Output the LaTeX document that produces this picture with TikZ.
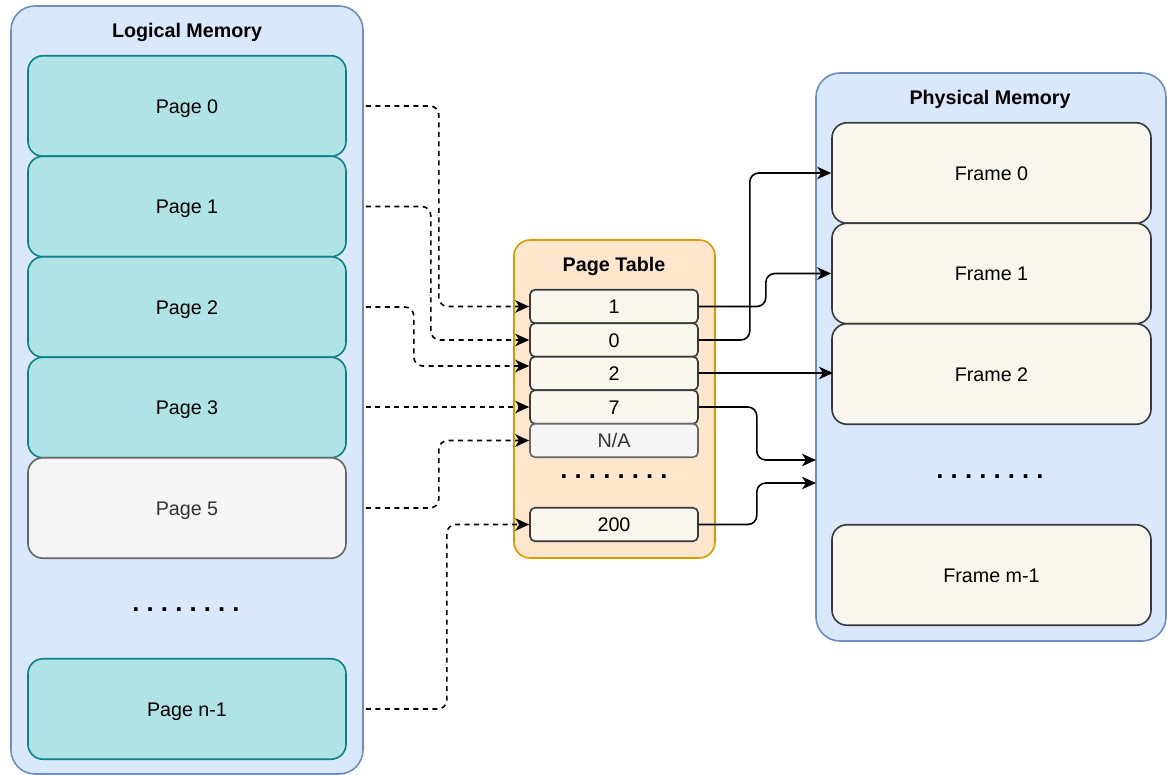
\documentclass[tikz,border=0pt]{standalone}
\usepackage{fontspec}
\setmainfont{Liberation Sans}
\usetikzlibrary{arrows.meta}
\definecolor{lmfill}{HTML}{DAE8FC}
\definecolor{lmdraw}{HTML}{6C8EBF}
\definecolor{pgfill}{HTML}{B0E3E6}
\definecolor{pgdraw}{HTML}{0E8088}
\definecolor{gyfill}{HTML}{F5F5F5}
\definecolor{gydraw}{HTML}{666666}
\definecolor{gytext}{HTML}{333333}
\definecolor{ptfill}{HTML}{FFE6CC}
\definecolor{ptdraw}{HTML}{D79B00}
\definecolor{frfill}{HTML}{F9F7ED}
\definecolor{frdraw}{HTML}{36393D}
\newcommand{\dotrow}{\frenchspacing\spaceskip=7.15pt\xspaceskip=7.15pt\relax . . . . . . . .}
\begin{document}
\begin{tikzpicture}[x=1pt,y=-1pt,
  font=\fontsize{19.7}{23}\selectfont,
  txt/.style={text height=14.1pt,text depth=0pt},
  container/.style={line width=1.6pt,rounded corners=24pt,inner sep=0pt},
  title/.style={txt,font=\fontsize{19.7}{23}\selectfont\bfseries,inner sep=0pt},
  pagebox/.style={txt,draw=pgdraw,fill=pgfill,line width=1.6pt,rounded corners=15pt,minimum width=318pt,minimum height=100.5pt,inner sep=0pt},
  greybox/.style={pagebox,draw=gydraw,fill=gyfill,text=gytext},
  framebox/.style={txt,draw=frdraw,fill=frfill,line width=1.6pt,rounded corners=15pt,minimum width=319pt,minimum height=100.5pt,inner sep=0pt},
  entry/.style={txt,draw=frdraw,fill=frfill,line width=1.6pt,rounded corners=5pt,minimum width=168pt,minimum height=33.5pt,inner sep=0pt},
  naentry/.style={entry,draw=gydraw,fill=gyfill,text=gytext},
  dotsnode/.style={font=\fontsize{25.7}{30}\selectfont\bfseries,anchor=base,inner sep=0pt},
  tip/.style={-{Stealth[length=14pt,width=12.5pt,inset=4pt]}},
  dasharrow/.style={tip,line width=1.6pt,dash pattern=on 5pt off 4.5pt,rounded corners=9pt},
  solidarrow/.style={tip,line width=1.6pt,rounded corners=9pt}
]
\useasboundingbox (0,0) rectangle (1167,775);

% Logical memory
\node[container,draw=lmdraw,fill=lmfill,minimum width=352pt,minimum height=768pt] (lm) at (187,390) {};
\node[title] (lmt) at (187,30) {Logical Memory};
\node[pagebox] (p0) at (187,106) {Page 0};
\node[pagebox] (p1) at (187,206.5) {Page 1};
\node[pagebox] (p2) at (187,307) {Page 2};
\node[pagebox] (p3) at (187,407.5) {Page 3};
\node[greybox] (p5) at (187,508) {Page 5};
\node[dotsnode] (lmd) at (186,611) {\dotrow};
\node[pagebox] (pn) at (187,709) {Page n-1};

% Page table
\node[container,draw=ptdraw,fill=ptfill,rounded corners=16pt,minimum width=201pt,minimum height=318pt] (pt) at (614.5,399) {};
\node[title] (ptt) at (614,264) {Page Table};
\node[entry] (e1) at (614,306.5) {1};
\node[entry] (e0) at (614,340) {0};
\node[entry] (e2) at (614,373.5) {2};
\node[entry] (e7) at (614,407) {7};
\node[naentry] (ena) at (614,440.5) {N/A};
\node[dotsnode] (ptd) at (614,478) {\dotrow};
\node[entry] (e200) at (614,524.5) {200};

% Physical memory
\node[container,draw=lmdraw,fill=lmfill,minimum width=350pt,minimum height=568pt] (pm) at (991,357) {};
\node[title] (pmt) at (990,97) {Physical Memory};
\node[framebox] (f0) at (991.5,173) {Frame 0};
\node[framebox] (f1) at (991.5,273.5) {Frame 1};
\node[framebox] (f2) at (991.5,374) {Frame 2};
\node[dotsnode] (pmd) at (990,478) {\dotrow};
\node[framebox] (fm) at (991.5,575) {Frame m-1};

% free ends
\coordinate (s0) at ([xshift=2pt]p0.east -| lm.east);
\coordinate (s1) at ([xshift=2pt]p1.east -| lm.east);
\coordinate (s2) at ([xshift=2pt]p2.east -| lm.east);
\coordinate (s3) at ([xshift=2pt]e7.west -| lm.east);
\coordinate (s5) at ([xshift=2pt]p5.east -| lm.east);
\coordinate (sn) at ([xshift=2pt]pn.east -| lm.east);
\coordinate (t7) at (816,460);
\coordinate (t200) at (816,483);
\coordinate (t2) at (833,373);

% dashed connectors
\draw[dasharrow] (s0) -- ++(73,0) |- (e1.west);
\draw[dasharrow] (s1) -- ++(65,0) |- (e0.west);
\draw[dasharrow] (s2) -- ++(48,0) |- ([yshift=7.5pt]e2.west);
\draw[dasharrow] (s3) -- (e7.west);
\draw[dasharrow] (s5) -- ++(73,0) |- (ena.west);
\draw[dasharrow] (sn) -- ++(81,0) |- (e200.west);

% solid connectors
\draw[solidarrow] (e1.east) -- ++(67,0) |- (f1.west);
\draw[solidarrow] (e0.east) -- ++(51,0) |- (f0.west);
\draw[solidarrow] (e2.east |- t2) -- (t2);
\draw[solidarrow] (e7.east) -- ++(58,0) |- (t7);
\draw[solidarrow] (e200.east) -- ++(58,0) |- (t200);
\end{tikzpicture}
\end{document}
